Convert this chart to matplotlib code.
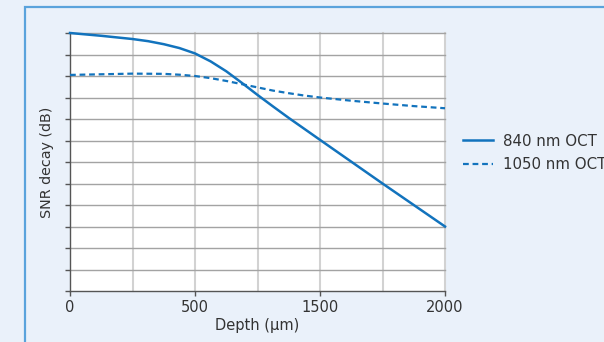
import matplotlib.pyplot as plt
from matplotlib.patches import Rectangle

# depth in grid units (one vertical grid line per unit), SNR in grid units
depth_840 = [0, 0.5, 1, 1.25, 1.5, 1.75, 2, 2.25, 2.5, 2.75, 3, 3.25, 3.5, 4, 5, 6]
snr_840 = [12.0, 11.87, 11.72, 11.62, 11.48, 11.3, 11.05, 10.68, 10.22, 9.68, 9.12,
           8.58, 8.05, 7.03, 5.0, 3.0]
depth_1050 = [0, 0.5, 1, 1.5, 1.75, 2, 2.25, 2.5, 2.75, 3, 3.25, 3.5, 3.75, 4, 4.5, 5, 5.5, 6]
snr_1050 = [10.05, 10.08, 10.11, 10.1, 10.06, 10.0, 9.9, 9.77, 9.62, 9.47, 9.32, 9.2,
            9.09, 9.0, 8.85, 8.72, 8.6, 8.5]

xtick_pos = [0, 2, 4, 6]
xtick_labels = ["0", "500", "1500", "2000"]

blue = "#1273bd"
bg = "#eaf1fa"

plt.rcParams['font.family'] = ['DejaVu Sans']

fig = plt.figure(figsize=(6.04, 3.42), dpi=100, facecolor=bg)
fig.patches.append(Rectangle((25 / 604, -0.1), 1.2, 1 - 7 / 342 + 0.1,
                             transform=fig.transFigure, facecolor="none",
                             edgecolor="#5aa3dc", lw=1.6, zorder=0))

ax = fig.add_axes([70 / 604, 1 - 291 / 342, 375 / 604, 258 / 342])
ax.set_facecolor("white")

# grid
for x in range(1, 7):
    ax.axvline(x, color="#d2d2d2", lw=1.5, zorder=1, clip_on=False)
for y in range(1, 13):
    ax.axhline(y, color="#a3a3a3", lw=1.0, zorder=1.5, clip_on=False)

ax.plot(depth_840, snr_840, color=blue, lw=1.8, label="840 nm OCT", clip_on=False, zorder=3)
ax.plot(depth_1050, snr_1050, color=blue, lw=1.6, ls=(0, (2.6, 1.7)), label="1050 nm OCT",
        clip_on=False, zorder=3)

ax.set_xlim(0, 6)
ax.set_ylim(0, 12)
ax.set_xticks(xtick_pos)
ax.set_xticklabels(xtick_labels)
ax.set_yticks(range(0, 13))
ax.set_yticklabels([])

for s in ["top", "right"]:
    ax.spines[s].set_visible(False)
for s in ["left", "bottom"]:
    ax.spines[s].set_color("#555555")
    ax.spines[s].set_linewidth(1.0)
    ax.spines[s].set_zorder(2)
ax.tick_params(axis="both", colors="#555555", length=3.5, width=1.0, labelcolor="#333333",
               labelsize=10.5, pad=3)

ax.set_xlabel("Depth (\u00b5m)", fontsize=10.5, color="#333333", labelpad=2)
ax.set_ylabel("SNR decay (dB)", fontsize=10.3, color="#333333", labelpad=5)

fig.legend(loc="upper left", bbox_to_anchor=(449 / 604, 1 - 120 / 342), frameon=False,
           fontsize=10.8, handlelength=2.0, handletextpad=0.7, labelspacing=0.58,
           labelcolor="#333333")

fig.savefig("out.png", dpi=100, facecolor=bg)
